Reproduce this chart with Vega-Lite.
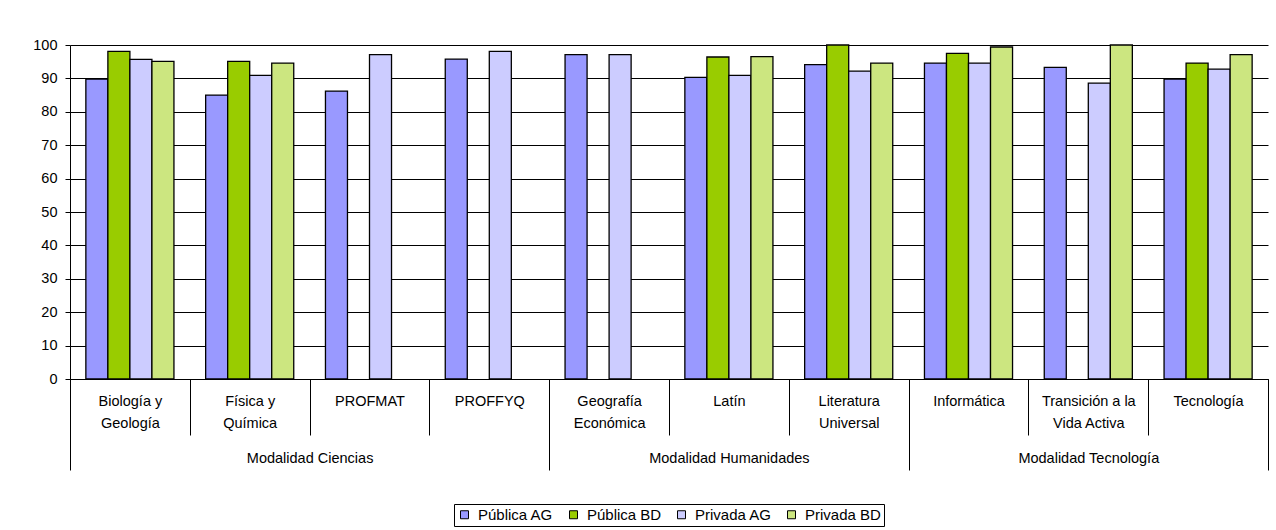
{
  "$schema": "https://vega.github.io/schema/vega-lite/v6.json",
  "width": 1198,
  "height": 334,
  "autosize": {"type": "none"},
  "padding": {"left": 70, "top": 45, "right": 8, "bottom": 151},
  "background": "white",
  "config": {
    "font": "Liberation Sans",
    "view": {"stroke": null},
    "axis": {"labelFont": "Liberation Sans", "labelFontSize": 14.5, "labelColor": "black", "titleFont": "Liberation Sans"},
    "legend": {"labelFont": "Liberation Sans"}
  },
  "datasets": {
    "barras": [
      {"modalidad": "Modalidad Ciencias", "materia": "Biología y Geología", "serie": "Pública AG", "valor": 89.8},
      {"modalidad": "Modalidad Ciencias", "materia": "Biología y Geología", "serie": "Pública BD", "valor": 98.1},
      {"modalidad": "Modalidad Ciencias", "materia": "Biología y Geología", "serie": "Privada AG", "valor": 95.7},
      {"modalidad": "Modalidad Ciencias", "materia": "Biología y Geología", "serie": "Privada BD", "valor": 95.1},
      {"modalidad": "Modalidad Ciencias", "materia": "Física y Química", "serie": "Pública AG", "valor": 85.0},
      {"modalidad": "Modalidad Ciencias", "materia": "Física y Química", "serie": "Pública BD", "valor": 95.1},
      {"modalidad": "Modalidad Ciencias", "materia": "Física y Química", "serie": "Privada AG", "valor": 90.9},
      {"modalidad": "Modalidad Ciencias", "materia": "Física y Química", "serie": "Privada BD", "valor": 94.6},
      {"modalidad": "Modalidad Ciencias", "materia": "PROFMAT", "serie": "Pública AG", "valor": 86.2},
      {"modalidad": "Modalidad Ciencias", "materia": "PROFMAT", "serie": "Privada AG", "valor": 97.1},
      {"modalidad": "Modalidad Ciencias", "materia": "PROFFYQ", "serie": "Pública AG", "valor": 95.8},
      {"modalidad": "Modalidad Ciencias", "materia": "PROFFYQ", "serie": "Privada AG", "valor": 98.1},
      {"modalidad": "Modalidad Humanidades", "materia": "Geografía Económica", "serie": "Pública AG", "valor": 97.1},
      {"modalidad": "Modalidad Humanidades", "materia": "Geografía Económica", "serie": "Privada AG", "valor": 97.1},
      {"modalidad": "Modalidad Humanidades", "materia": "Latín", "serie": "Pública AG", "valor": 90.3},
      {"modalidad": "Modalidad Humanidades", "materia": "Latín", "serie": "Pública BD", "valor": 96.4},
      {"modalidad": "Modalidad Humanidades", "materia": "Latín", "serie": "Privada AG", "valor": 90.9},
      {"modalidad": "Modalidad Humanidades", "materia": "Latín", "serie": "Privada BD", "valor": 96.5},
      {"modalidad": "Modalidad Humanidades", "materia": "Literatura Universal", "serie": "Pública AG", "valor": 94.1},
      {"modalidad": "Modalidad Humanidades", "materia": "Literatura Universal", "serie": "Pública BD", "valor": 100.0},
      {"modalidad": "Modalidad Humanidades", "materia": "Literatura Universal", "serie": "Privada AG", "valor": 92.2},
      {"modalidad": "Modalidad Humanidades", "materia": "Literatura Universal", "serie": "Privada BD", "valor": 94.6},
      {"modalidad": "Modalidad Tecnología", "materia": "Informática", "serie": "Pública AG", "valor": 94.6},
      {"modalidad": "Modalidad Tecnología", "materia": "Informática", "serie": "Pública BD", "valor": 97.5},
      {"modalidad": "Modalidad Tecnología", "materia": "Informática", "serie": "Privada AG", "valor": 94.6},
      {"modalidad": "Modalidad Tecnología", "materia": "Informática", "serie": "Privada BD", "valor": 99.4},
      {"modalidad": "Modalidad Tecnología", "materia": "Transición a la Vida Activa", "serie": "Pública AG", "valor": 93.3},
      {"modalidad": "Modalidad Tecnología", "materia": "Transición a la Vida Activa", "serie": "Privada AG", "valor": 88.6},
      {"modalidad": "Modalidad Tecnología", "materia": "Transición a la Vida Activa", "serie": "Privada BD", "valor": 100.0},
      {"modalidad": "Modalidad Tecnología", "materia": "Tecnología", "serie": "Pública AG", "valor": 89.8},
      {"modalidad": "Modalidad Tecnología", "materia": "Tecnología", "serie": "Pública BD", "valor": 94.6},
      {"modalidad": "Modalidad Tecnología", "materia": "Tecnología", "serie": "Privada AG", "valor": 92.8},
      {"modalidad": "Modalidad Tecnología", "materia": "Tecnología", "serie": "Privada BD", "valor": 97.1}
    ],
    "modalidades": [
      {"modalidad": "Modalidad Ciencias", "materias": 4},
      {"modalidad": "Modalidad Humanidades", "materias": 3},
      {"modalidad": "Modalidad Tecnología", "materias": 3}
    ]
  },
  "layer": [
    {
      "data": {"name": "modalidades"},
      "mark": {"type": "bar", "fillOpacity": 0, "strokeOpacity": 0},
      "encoding": {
        "x": {
          "field": "materias",
          "type": "quantitative",
          "stack": "zero",
          "scale": {"domain": [0, 10], "nice": false, "zero": true},
          "axis": {
            "orient": "bottom",
            "title": null,
            "values": [0, 2, 4, 5.5, 7, 8.5, 10],
            "domain": false,
            "grid": false,
            "ticks": true,
            "tickSize": 91,
            "tickColor": "black",
            "tickWidth": 1,
            "tickOpacity": {"condition": {"test": "datum.value == 2 || datum.value == 5.5 || datum.value == 8.5", "value": 0}, "value": 1},
            "labelExpr": "datum.value == 2 ? 'Modalidad Ciencias' : datum.value == 5.5 ? 'Modalidad Humanidades' : datum.value == 8.5 ? 'Modalidad Tecnología' : ''",
            "labelPadding": -19,
            "labelBaseline": "top",
            "labelOverlap": false,
            "labelFlush": false,
            "labelAngle": 0
          }
        },
        "detail": {"field": "modalidad"}
      }
    },
    {
      "data": {"name": "barras"},
      "mark": {"type": "bar", "stroke": "black", "strokeWidth": 1.3},
      "encoding": {
        "x": {
          "field": "materia",
          "type": "nominal",
          "sort": ["Biología y Geología", "Física y Química", "PROFMAT", "PROFFYQ", "Geografía Económica", "Latín", "Literatura Universal", "Informática", "Transición a la Vida Activa", "Tecnología"],
          "scale": {"paddingInner": 0, "paddingOuter": 0},
          "axis": {
            "orient": "bottom",
            "title": null,
            "domain": true,
            "domainColor": "black",
            "grid": false,
            "ticks": true,
            "tickBand": "extent",
            "tickSize": 56,
            "tickColor": "black",
            "labelAngle": 0,
            "labelBaseline": "top",
            "labelPadding": -41,
            "labelLineHeight": 22,
            "labelOverlap": false,
            "labelExpr": "datum.value == 'Biología y Geología' ? ['Biología y', 'Geología'] : datum.value == 'Física y Química' ? ['Física y', 'Química'] : datum.value == 'Geografía Económica' ? ['Geografía', 'Económica'] : datum.value == 'Literatura Universal' ? ['Literatura', 'Universal'] : datum.value == 'Transición a la Vida Activa' ? ['Transición a la', 'Vida Activa'] : datum.label"
          }
        },
        "xOffset": {
          "field": "serie",
          "type": "nominal",
          "sort": ["Pública AG", "Pública BD", "Privada AG", "Privada BD"],
          "scale": {"domain": ["Pública AG", "Pública BD", "Privada AG", "Privada BD"], "paddingInner": 0, "paddingOuter": 0.72}
        },
        "y": {
          "field": "valor",
          "type": "quantitative",
          "scale": {"domain": [0, 100], "nice": false},
          "axis": {
            "title": null,
            "values": [0, 10, 20, 30, 40, 50, 60, 70, 80, 90, 100],
            "grid": true,
            "gridColor": "black",
            "gridWidth": 1,
            "domain": true,
            "domainColor": "black",
            "tickColor": "black",
            "tickSize": 5,
            "labelPadding": 8
          }
        },
        "color": {
          "field": "serie",
          "type": "nominal",
          "sort": ["Pública AG", "Pública BD", "Privada AG", "Privada BD"],
          "scale": {"domain": ["Pública AG", "Pública BD", "Privada AG", "Privada BD"], "range": ["#9999FF", "#99CC00", "#CCCCFF", "#CCE680"]},
          "legend": {
            "title": null,
            "orient": "none",
            "legendX": 384,
            "legendY": 459,
            "direction": "horizontal",
            "symbolType": "square",
            "symbolSize": 64,
            "symbolStrokeColor": "black",
            "symbolStrokeWidth": 1,
            "symbolOpacity": 1,
            "labelFontSize": 15,
            "labelColor": "black",
            "labelOffset": 6,
            "columnPadding": 12,
            "strokeColor": "black",
            "fillColor": "white",
            "padding": 3
          }
        }
      }
    }
  ],
  "resolve": {"scale": {"x": "independent"}}
}
